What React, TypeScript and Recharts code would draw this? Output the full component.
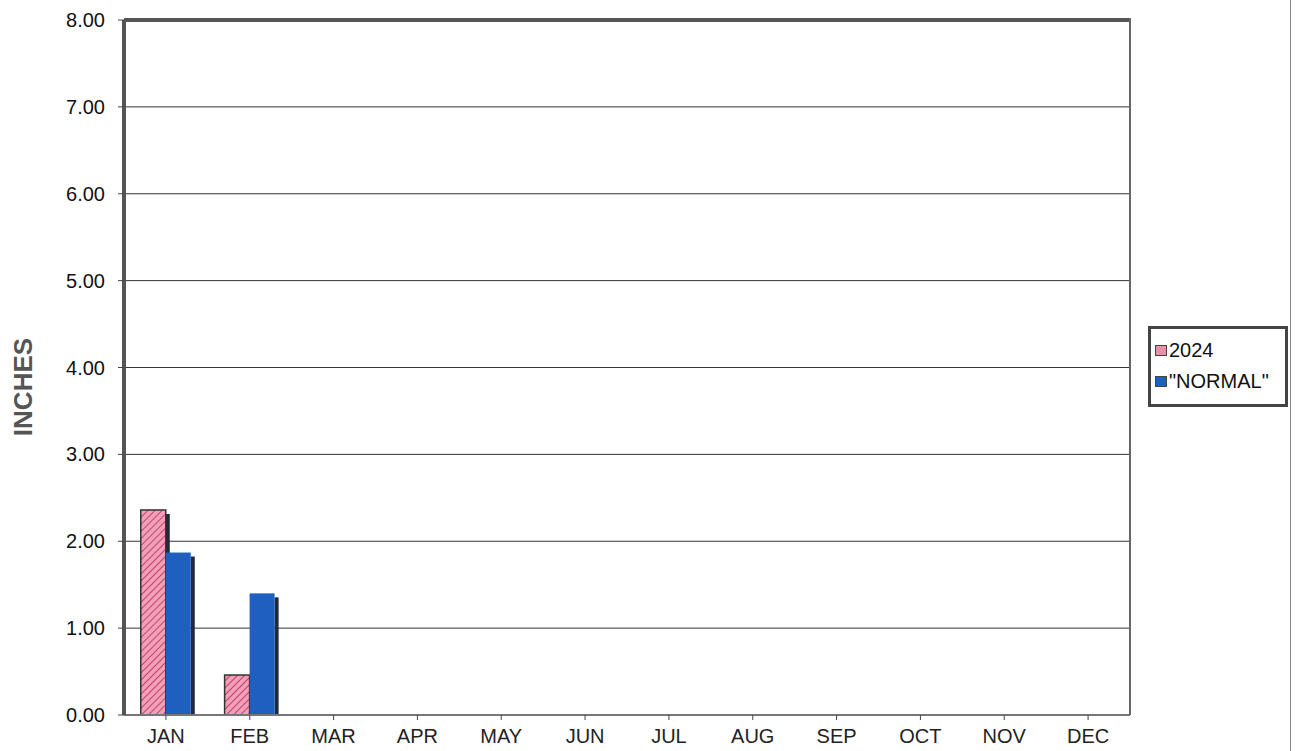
import { BarChart, Bar, XAxis, YAxis, CartesianGrid, ReferenceLine } from "recharts";

const months = ["JAN", "FEB", "MAR", "APR", "MAY", "JUN", "JUL", "AUG", "SEP", "OCT", "NOV", "DEC"];
const rain2024 = [2.36, 0.46, null, null, null, null, null, null, null, null, null, null];
const normal = [1.87, 1.4, null, null, null, null, null, null, null, null, null, null];
const yTicks = [0, 1, 2, 3, 4, 5, 6, 7, 8];

const data = months.map((m, i) => ({ month: m, y2024: rain2024[i], normal: normal[i] }));

const FONT = "'Liberation Sans', Arial, sans-serif";

// bar with a little dark side shadow, like the old 3D excel look
function ShadowBar(props: any) {
  const { x, y, width, height, fill, stroke } = props;
  if (!height || height <= 0) return null;
  return (
    <g>
      <rect x={x + width} y={y + 4} width={4} height={height - 4} fill="#1f2a3a" />
      <rect x={x} y={y} width={width} height={height} fill={fill} stroke={stroke} strokeWidth={stroke ? 1.5 : 0} />
    </g>
  );
}

function LegendBox() {
  const sq = (c: string) => (
    <span style={{ display: "inline-block", width: 10, height: 9, background: c, border: "1px solid #444", marginRight: 2 }} />
  );
  return (
    <div
      style={{
        position: "absolute",
        left: 1148,
        top: 326,
        width: 140,
        height: 81,
        border: "3px solid #444",
        background: "#fff",
        fontFamily: FONT,
        fontSize: 20,
        color: "#111",
        boxSizing: "border-box",
        padding: "7px 0 0 4px",
        lineHeight: "22px",
      }}
    >
      <div style={{ display: "flex", alignItems: "center", height: 28 }}>
        {sq("#e890a8")}2024
      </div>
      <div style={{ display: "flex", alignItems: "center", height: 34, whiteSpace: "nowrap" }}>
        {sq("#1f5fbf")}"NORMAL"
      </div>
    </div>
  );
}

export default function App() {
  return (
    <div style={{ position: "absolute", left: 0, top: 0, width: 1296, height: 751, background: "#fff" }}>
      <BarChart
        width={1296}
        height={751}
        data={data}
        margin={{ top: 20, right: 166, bottom: 0, left: 0 }}
        barCategoryGap="20%"
        barGap={0}
      >
        <defs>
          <pattern id="hatch" width="5" height="5" patternUnits="userSpaceOnUse" patternTransform="rotate(45)">
            <rect width="5" height="5" fill="#f0a0b8" />
            <line x1="0" y1="0" x2="0" y2="5" stroke="#c8406a" strokeWidth="2" />
          </pattern>
        </defs>
        <CartesianGrid horizontal vertical={false} stroke="#333" strokeWidth={1} />
        <XAxis
          dataKey="month"
          height={36}
          tickLine={{ stroke: "#444" }}
          tickSize={5}
          axisLine={{ stroke: "#777", strokeWidth: 2 }}
          tick={{ fill: "#222", fontSize: 20, fontFamily: FONT }}
          tickMargin={9}
          interval={0}
        />
        <YAxis
          width={124}
          domain={[0, 8]}
          ticks={yTicks}
          tickFormatter={(v: number) => v.toFixed(2)}
          axisLine={{ stroke: "#555", strokeWidth: 4 }}
          tickLine={{ stroke: "#444" }}
          tickSize={6}
          tickMargin={13}
          tick={{ fill: "#111", fontSize: 20, fontFamily: FONT }}
          label={{
            content: () => (
              <text
                transform="translate(32,387) rotate(-90)"
                textAnchor="middle"
                fill="#555"
                fontSize={26}
                fontWeight="bold"
                fontFamily={FONT}
              >
                INCHES
              </text>
            ),
          }}
        />
        <ReferenceLine y={8} stroke="#555" strokeWidth={4} />
        <Bar dataKey="y2024" name="2024" fill="url(#hatch)" stroke="#333" shape={<ShadowBar />} isAnimationActive={false} />
        <Bar dataKey="normal" name='"NORMAL"' fill="#1f5fbf" shape={<ShadowBar />} isAnimationActive={false} />
      </BarChart>
      {/* right edge of plot frame */}
      <div style={{ position: "absolute", left: 1129, top: 18, width: 2, height: 697, background: "#666" }} />
      <LegendBox />
      <div style={{ position: "absolute", left: 1290, top: 0, width: 1, height: 751, background: "#888" }} />
    </div>
  );
}
